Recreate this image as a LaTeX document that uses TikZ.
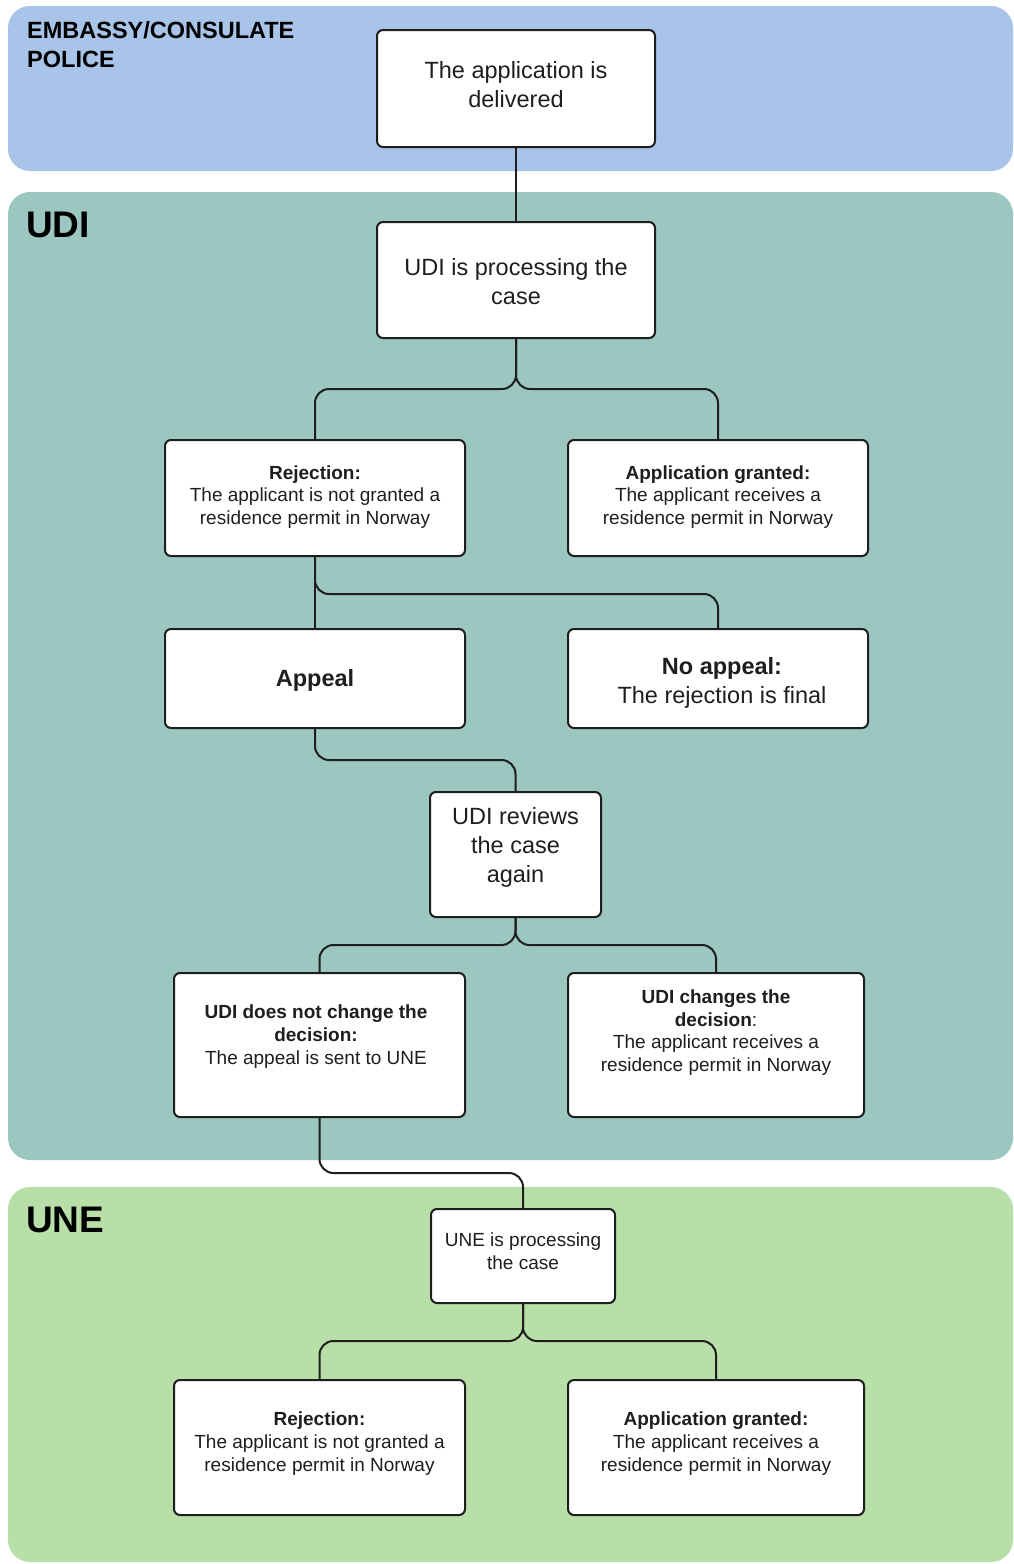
\documentclass[tikz,border=0pt]{standalone}
\usepackage{fontspec}
\setmainfont{Liberation Sans}
\definecolor{blueband}{HTML}{A9C4E9}
\definecolor{tealband}{HTML}{9CC6C0}
\definecolor{greenband}{HTML}{B8DFA7}
\definecolor{ink}{HTML}{1E1E1E}
\begin{document}
\begin{tikzpicture}[x=1pt,y=-1pt,
  box/.style={draw=ink, line width=2pt, fill=white, rounded corners=6pt, inner sep=0pt},
  conn/.style={draw=ink, line width=2pt, rounded corners=14pt},
  txt/.style={align=center, inner sep=0pt, text=ink},
  small/.style={txt, font=\fontsize{19}{22.7}\selectfont},
  big/.style={txt, font=\fontsize{23.5}{29}\selectfont},
  band/.style={rounded corners=22pt}
]
\useasboundingbox (0,0) rectangle (1014,1564);
% bands
\fill[band, blueband] (8,6) rectangle (1013,171);
\fill[band, tealband] (8,192) rectangle (1013,1160);
\fill[band, greenband] (8,1187) rectangle (1013,1562);
% band titles
\node[anchor=north west, align=left, inner sep=0pt, text=black, font=\bfseries\fontsize{23.5}{29}\selectfont] (tEmb) at (27,21) {EMBASSY/CONSULATE\\POLICE};
\node[anchor=base west, inner sep=0pt, text=black, font=\bfseries\fontsize{37}{40}\selectfont] (tUDI) at (26,237) {UDI};
\node[anchor=base west, inner sep=0pt, text=black, font=\bfseries\fontsize{37}{40}\selectfont] (tUNE) at (26,1232) {UNE};
% boxes
\node[box, minimum width=278pt, minimum height=117pt] (b1) at (516,88.5) {};
\node[box, minimum width=278pt, minimum height=116pt] (b2) at (516,280) {};
\node[box, minimum width=300pt, minimum height=116pt] (b3) at (315,498) {};
\node[box, minimum width=300pt, minimum height=116pt] (b4) at (718,498) {};
\node[box, minimum width=300pt, minimum height=99pt] (b5) at (315,678.5) {};
\node[box, minimum width=300pt, minimum height=99pt] (b6) at (718,678.5) {};
\node[box, minimum width=171pt, minimum height=125pt] (b7) at (515.5,854.5) {};
\node[box, minimum width=291pt, minimum height=144pt] (b8) at (319.5,1045) {};
\node[box, minimum width=296pt, minimum height=144pt] (b9) at (716,1045) {};
\node[box, minimum width=184pt, minimum height=94pt] (b10) at (523,1256) {};
\node[box, minimum width=291pt, minimum height=135pt] (b11) at (319.5,1447.5) {};
\node[box, minimum width=296pt, minimum height=135pt] (b12) at (716,1447.5) {};
% texts
\node[big] (x1) at (516,84.5) {The application is\\delivered};
\node[big] (x2) at (516,281.5) {UDI is processing the\\case};
\node[small] (x3) at (315,497) {\textbf{Rejection:}\\The applicant is not granted a\\residence permit in Norway};
\node[small] (x4) at (718,497) {\textbf{Application granted:}\\The applicant receives a\\residence permit in Norway};
\node[big, font=\bfseries\fontsize{23.5}{29}\selectfont] (x5) at (315,680.5) {Appeal};
\node[big] (x6) at (722,683) {\textbf{No appeal:}\\The rejection is final};
\node[big] (x7) at (515.5,847.5) {UDI reviews\\the case\\again};
\node[small] (x8) at (316,1036.5) {\textbf{UDI does not change the}\\\textbf{decision:}\\The appeal is sent to UNE};
\node[small] (x9) at (716,1032.5) {\textbf{UDI changes the}\\\textbf{decision}:\\The applicant receives a\\residence permit in Norway};
\node[small] (x10) at (523,1251.5) {UNE is processing\\the case};
\node[small] (x11) at (319.5,1443.5) {\textbf{Rejection:}\\The applicant is not granted a\\residence permit in Norway};
\node[small] (x12) at (716,1443.5) {\textbf{Application granted:}\\The applicant receives a\\residence permit in Norway};
% fork coordinates
\coordinate (f1) at (516,389);
\coordinate (f2) at (315,594);
\coordinate (f3) at (315,760);
\coordinate (f4) at (515.5,945);
\coordinate (f5) at (319.5,1173);
\coordinate (f6) at (523,1341);
% connectors
\draw[conn] (b1.south) -- (b2.north);
\draw[conn] (b2.south) -- (f1) -| (b3.north);
\draw[conn] (b2.south) -- (f1) -| (b4.north);
\draw[conn] (b3.south) -- (b5.north);
\draw[conn] (b3.south) -- (f2) -| (b6.north);
\draw[conn] (b5.south) -- (f3) -| (b7.north);
\draw[conn] (b7.south) -- (f4) -| (b8.north);
\draw[conn] (b7.south) -- (f4) -| (b9.north);
\draw[conn] (b8.south) -- (f5) -| (b10.north);
\draw[conn] (b10.south) -- (f6) -| (b11.north);
\draw[conn] (b10.south) -- (f6) -| (b12.north);
\end{tikzpicture}
\end{document}
